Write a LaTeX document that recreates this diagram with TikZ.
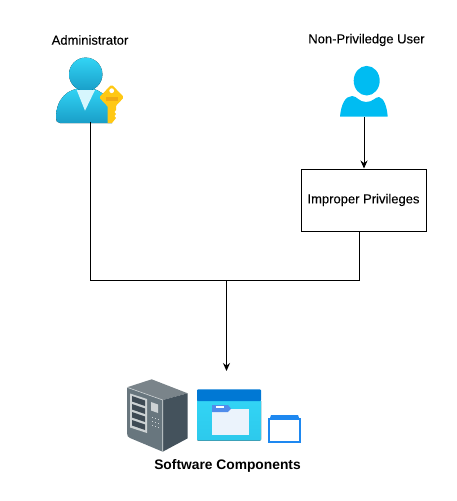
\documentclass[tikz,border=0pt]{standalone}
\usepackage{fontspec}
\setmainfont{Liberation Sans}
\newfontfamily\lblfont[FakeBold=0.12]{Liberation Sans}
\usetikzlibrary{arrows.meta, positioning}
\definecolor{skyTop}{RGB}{50,212,245}
\definecolor{skyBot}{RGB}{25,158,200}
\definecolor{userBlue}{RGB}{0,188,242}
\definecolor{keyGold}{RGB}{255,200,20}
\definecolor{keySlot}{RGB}{240,170,20}
\definecolor{winBlue}{RGB}{0,120,212}
\definecolor{smallBlue}{RGB}{30,136,240}
\definecolor{tabBlue}{RGB}{80,140,235}
\definecolor{paperWhite}{RGB}{235,243,252}
\definecolor{srvTop}{RGB}{122,132,138}
\definecolor{srvFront}{RGB}{104,118,126}
\definecolor{srvSide}{RGB}{68,82,92}
\definecolor{srvSlot}{RGB}{62,74,84}
\definecolor{srvPale}{RGB}{205,210,212}
\tikzset{
  lbl/.style={font=\fontsize{13}{15}\selectfont\lblfont, text=black, inner sep=0pt},
  lblbold/.style={font=\fontsize{13.8}{15}\selectfont\bfseries, text=black, inner sep=0pt},
  privbox/.style={draw=black, line width=1pt, minimum width=125pt, minimum height=62pt, inner sep=0pt},
  anchorbox/.style={inner sep=0pt, minimum width=1pt, minimum height=1pt},
  wire/.style={draw=black, line width=1pt},
  wirearrow/.style={wire, -{Stealth[length=8pt,width=7pt]}},
}
\begin{document}
\begin{tikzpicture}[x=1pt, y=-1pt]
\useasboundingbox (0,0) rectangle (457,501);

% labels
\node[lbl] (adminlbl) at (90,40) {Administrator};
\node[lbl] (userlbl) at (366.5,40) {Non-Priviledge User};
\node[lblbold] (complbl) at (227.5,465.5) {Software Components};

% administrator icon
\fill[top color=skyTop, bottom color=skyBot] (56,118) .. controls (56,100) and (66,88) .. (85,88) .. controls (104,88) and (112,100) .. (112,123) -- (60,123) .. controls (57,123) and (56,121) .. (56,118) -- cycle;
\fill[top color=skyTop, bottom color=skyBot] (85.7,74.3) circle (16.7);
\fill[white!80!skyTop] (76.7,90) -- (95,90) -- (85,110.7) -- cycle;
% key
\fill[keyGold, rounded corners=1.5pt] (111.7,84.5) -- (124,97.3) -- (113,109) -- (110,109) -- (99,97.3) -- cycle;
\fill[keyGold] (107.7,104) -- (116,104) -- (116,110) -- (114.5,112) -- (116,114) -- (114.5,116) -- (116,118) -- (112,123) -- (107.7,123) -- cycle;
\fill[white] (111.7,90.7) circle (2.4);
\fill[keySlot] (105.7,97.3) rectangle (118,100.7);

% user icon
\fill[userBlue] (366.7,80.7) ellipse (13 and 14.8);
\fill[userBlue] (340,116.7) .. controls (341,105) and (345,96) .. (352,96) .. controls (357,96) and (359,102) .. (366,102) .. controls (373,102) and (375,97) .. (379,97) .. controls (384,98) and (387,107) .. (387.7,116.7) -- cycle;

% server
\fill[srvTop] (127,387.3) -- (151.7,379.3) -- (187.7,393.3) -- (162.7,400) -- cycle;
\fill[srvSide] (162.7,400) -- (187.7,393.3) -- (187.7,438.3) -- (162.7,451.7) -- cycle;
\fill[srvFront] (127,387.3) -- (162.7,400) -- (162.7,451.7) -- (130,438) .. controls (128,437) and (127,436) .. (127,433) -- cycle;
\draw[srvPale, line width=0.6pt] (127,387.3) -- (162.7,400) -- (162.7,451.7);
\fill[srvPale] (130,393.5) -- (147,399) -- (147,433) -- (130,427.5) -- cycle;
\foreach \i in {0,1,2,3} {
  \fill[srvSlot] (132,{396+\i*8}) -- (145,{400.5+\i*8}) -- (145,{406+\i*8}) -- (132,{401.5+\i*8}) -- cycle;
}
\fill[srvPale] (151,402) -- (158,404.5) -- (158,413) -- (151,410.5) -- cycle;
\foreach \a in {0,1,2} {
  \foreach \b in {0,1,2} {
    \fill[srvPale] ({151.5+\a*3},{416.5+\b*4+\a*1}) rectangle ++(1.6,1.6);
  }
}

% folder window
\fill[top color=skyTop, bottom color=skyTop!80!skyBot, rounded corners=1pt] (197,400) rectangle (261,440.7);
\fill[winBlue, rounded corners=1pt] (197,389.3) rectangle (261,401);
\fill[paperWhite] (212.3,408.7) rectangle (249,435);
\fill[tabBlue] (212,405) -- (228,405) -- (231,408.7) -- (228,412) -- (212,412) -- cycle;
\fill[white] (216,406.3) rectangle (224,407.8);

% small window
\draw[smallBlue, line width=1.3pt] (269,419) rectangle (300,442);
\fill[smallBlue] (271,415) -- (298,415) -- (299.5,419.5) -- (269.5,419.5) -- cycle;

% nodes for the connectors
\node[anchorbox] (admin) at (90.5,122) {};
\node[anchorbox] (user) at (364,117) {};
\node[privbox] (improper) at (363.5,200) {\fontsize{13}{15}\selectfont\lblfont Improper Privileges};
\coordinate (merge) at (226.5,280);
\coordinate (comptop) at (226.5,371);
\coordinate (boxfoot) at (359.5,231);

\draw[wire] (admin.center) |- (merge);
\draw[wire] (boxfoot) |- (merge);
\draw[wirearrow] (user.center) -- (improper.north -| user.center);
\draw[wirearrow] (merge) -- (comptop);
\end{tikzpicture}
\end{document}
